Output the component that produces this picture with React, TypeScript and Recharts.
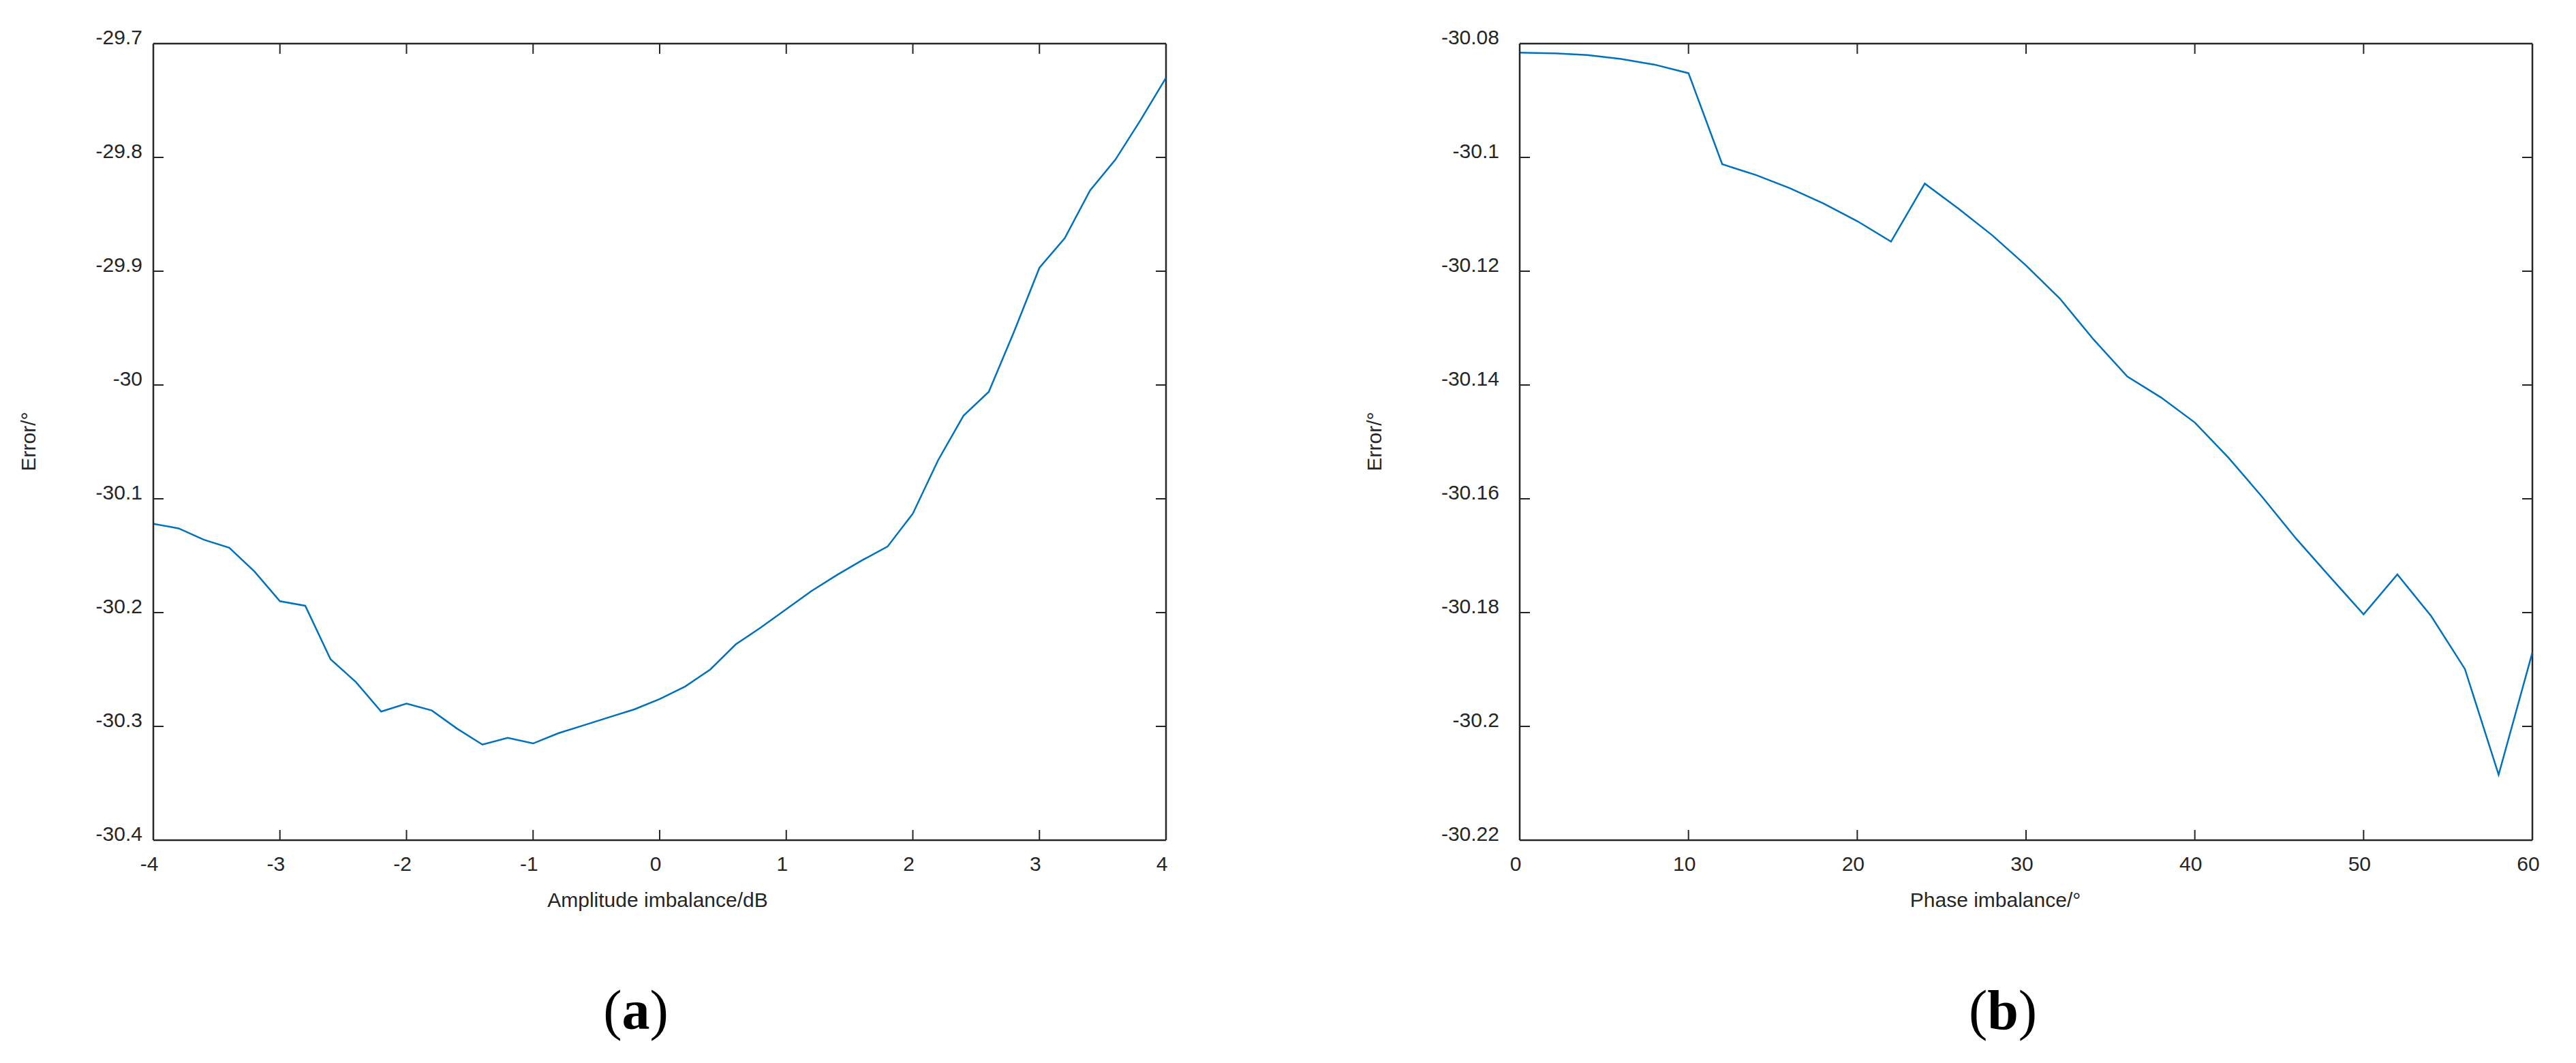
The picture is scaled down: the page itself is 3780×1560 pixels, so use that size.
import React from 'react';
import { LineChart, Line, XAxis, YAxis, ReferenceLine } from 'recharts';

// (a) amplitude imbalance sweep
const ampImbalance = [
  -4, -3.8, -3.6, -3.4, -3.2, -3, -2.8, -2.6, -2.4, -2.2, -2, -1.8, -1.6, -1.4, -1.2, -1, -0.8, -0.6, -0.4, -0.2,
  0, 0.2, 0.4, 0.6, 0.8, 1, 1.2, 1.4, 1.6, 1.8, 2, 2.2, 2.4, 2.6, 2.8, 3, 3.2, 3.4, 3.6, 3.8, 4,
];
const ampError = [
  -30.122, -30.126, -30.136, -30.143, -30.164, -30.19, -30.194, -30.241, -30.261, -30.287, -30.28, -30.286,
  -30.302, -30.316, -30.31, -30.315, -30.306, -30.299, -30.292, -30.285, -30.276, -30.265, -30.25, -30.228,
  -30.213, -30.197, -30.181, -30.167, -30.154, -30.142, -30.113, -30.066, -30.027, -30.006, -29.953, -29.897,
  -29.871, -29.829, -29.802, -29.767, -29.73,
];

// (b) phase imbalance sweep
const phaseImbalance = [
  0, 2, 4, 6, 8, 10, 12, 14, 16, 18, 20, 22, 24, 26, 28, 30, 32, 34, 36, 38, 40, 42, 44, 46, 48, 50, 52, 54, 56, 58, 60,
];
const phaseError = [
  -30.0816, -30.0817, -30.082, -30.0827, -30.0837, -30.0852, -30.1012, -30.1031, -30.1054, -30.1081, -30.1112,
  -30.1148, -30.1046, -30.109, -30.1137, -30.119, -30.1248, -30.132, -30.1385, -30.1422, -30.1466, -30.1528,
  -30.1597, -30.167, -30.1737, -30.1803, -30.1733, -30.1806, -30.1899, -30.2085, -30.187,
];

const ampXTicks = [-4, -3, -2, -1, 0, 1, 2, 3, 4];
const ampYTicks = [-30.4, -30.3, -30.2, -30.1, -30, -29.9, -29.8, -29.7];
const phaseXTicks = [0, 10, 20, 30, 40, 50, 60];
const phaseYTicks = [-30.22, -30.2, -30.18, -30.16, -30.14, -30.12, -30.1, -30.08];

const AXIS = '#262626';
const LINE = '#0072BD';
const FONT = '"Liberation Sans", Arial, Helvetica, sans-serif';
const TICK_LEN = 15;
const PLOT_W = 1486;
const PLOT_H = 1169;

const toRows = (xs: number[], ys: number[]) => xs.map((x, i) => ({ x, y: ys[i] }));

// left tick draws the inward mark on both the left and right edges of the box
const leftTick = (gap: number) => (props: any) => {
  const { x, y, payload } = props;
  return (
    <g>
      <line x1={x} y1={y} x2={x + TICK_LEN} y2={y} stroke={AXIS} strokeWidth={2} />
      <line x1={x + PLOT_W} y1={y} x2={x + PLOT_W - TICK_LEN} y2={y} stroke={AXIS} strokeWidth={2} />
      <text x={x - gap} y={y - 10} textAnchor="end" dominantBaseline="central" fontSize={30} fontFamily={FONT} fill={AXIS}>
        {payload.value}
      </text>
    </g>
  );
};

// bottom tick does the same for the bottom and top edges
const bottomTick = (props: any) => {
  const { x, y, payload } = props;
  return (
    <g>
      <line x1={x} y1={y} x2={x} y2={y - TICK_LEN} stroke={AXIS} strokeWidth={2} />
      <line x1={x} y1={y - PLOT_H} x2={x} y2={y - PLOT_H + TICK_LEN} stroke={AXIS} strokeWidth={2} />
      <text x={x - 6} y={y + 34} textAnchor="middle" dominantBaseline="central" fontSize={30} fontFamily={FONT} fill={AXIS}>
        {payload.value}
      </text>
    </g>
  );
};

interface PanelProps {
  xs: number[];
  ys: number[];
  xTicks: number[];
  yTicks: number[];
  left: number;
  width: number;
  yGap: number;
}

const Panel: React.FC<PanelProps> = ({ xs, ys, xTicks, yTicks, left, width, yGap }) => {
  const data = toRows(xs, ys);
  const xDomain = [xTicks[0], xTicks[xTicks.length - 1]];
  const yDomain = [yTicks[0], yTicks[yTicks.length - 1]];
  const axisLine = { stroke: AXIS, strokeWidth: 2.5 };
  return (
    <div style={{ position: 'absolute', left, top: 0 }}>
      <LineChart width={width} height={1400} data={data}
        margin={{ top: 64, right: width - 225 - PLOT_W, bottom: 1400 - 64 - PLOT_H - 100, left: 0 }}>
        <XAxis dataKey="x" type="number" domain={xDomain} ticks={xTicks} allowDataOverflow interval={0}
          height={100} tickSize={0} tickMargin={0} tickLine={false} axisLine={axisLine} tick={bottomTick} />
        <YAxis type="number" domain={yDomain} ticks={yTicks} allowDataOverflow interval={0}
          width={225} tickSize={0} tickMargin={0} tickLine={false} axisLine={axisLine} tick={leftTick(yGap)} />
        <ReferenceLine y={yDomain[1]} stroke={AXIS} strokeWidth={2.5} />
        <ReferenceLine x={xDomain[1]} stroke={AXIS} strokeWidth={2.5} />
        <Line type="linear" dataKey="y" stroke={LINE} strokeWidth={2.5} dot={false}
          activeDot={false} isAnimationActive={false} />
      </LineChart>
    </div>
  );
};

const Captions: React.FC = () => (
  <svg width={3780} height={1560} style={{ position: 'absolute', left: 0, top: 0, pointerEvents: 'none' }}>
    <g fontFamily={FONT} fontSize={30} fill={AXIS}>
      <text transform="translate(52,648) rotate(-90)" textAnchor="middle">Error/°</text>
      <text transform="translate(2027,648) rotate(-90)" textAnchor="middle">Error/°</text>
      <text x={965} y={1331} textAnchor="middle">Amplitude imbalance/dB</text>
      <text x={2928} y={1331} textAnchor="middle">Phase imbalance/°</text>
    </g>
    <g fontFamily='"Liberation Serif", "DejaVu Serif", serif' fontSize={82} fill="#000">
      <text x={933} y={1510} textAnchor="middle">(<tspan fontWeight="bold">a</tspan>)</text>
      <text x={2939} y={1510} textAnchor="middle">(<tspan fontWeight="bold">b</tspan>)</text>
    </g>
  </svg>
);

export default function App() {
  return (
    <div style={{ position: 'absolute', left: 0, top: 0, width: 3780, height: 1560, background: '#fff' }}>
      <Panel xs={ampImbalance} ys={ampError} xTicks={ampXTicks} yTicks={ampYTicks} left={0} width={1800} yGap={16} />
      <Panel xs={phaseImbalance} ys={phaseError} xTicks={phaseXTicks} yTicks={phaseYTicks} left={2005} width={1775} yGap={30} />
      <Captions />
    </div>
  );
}
